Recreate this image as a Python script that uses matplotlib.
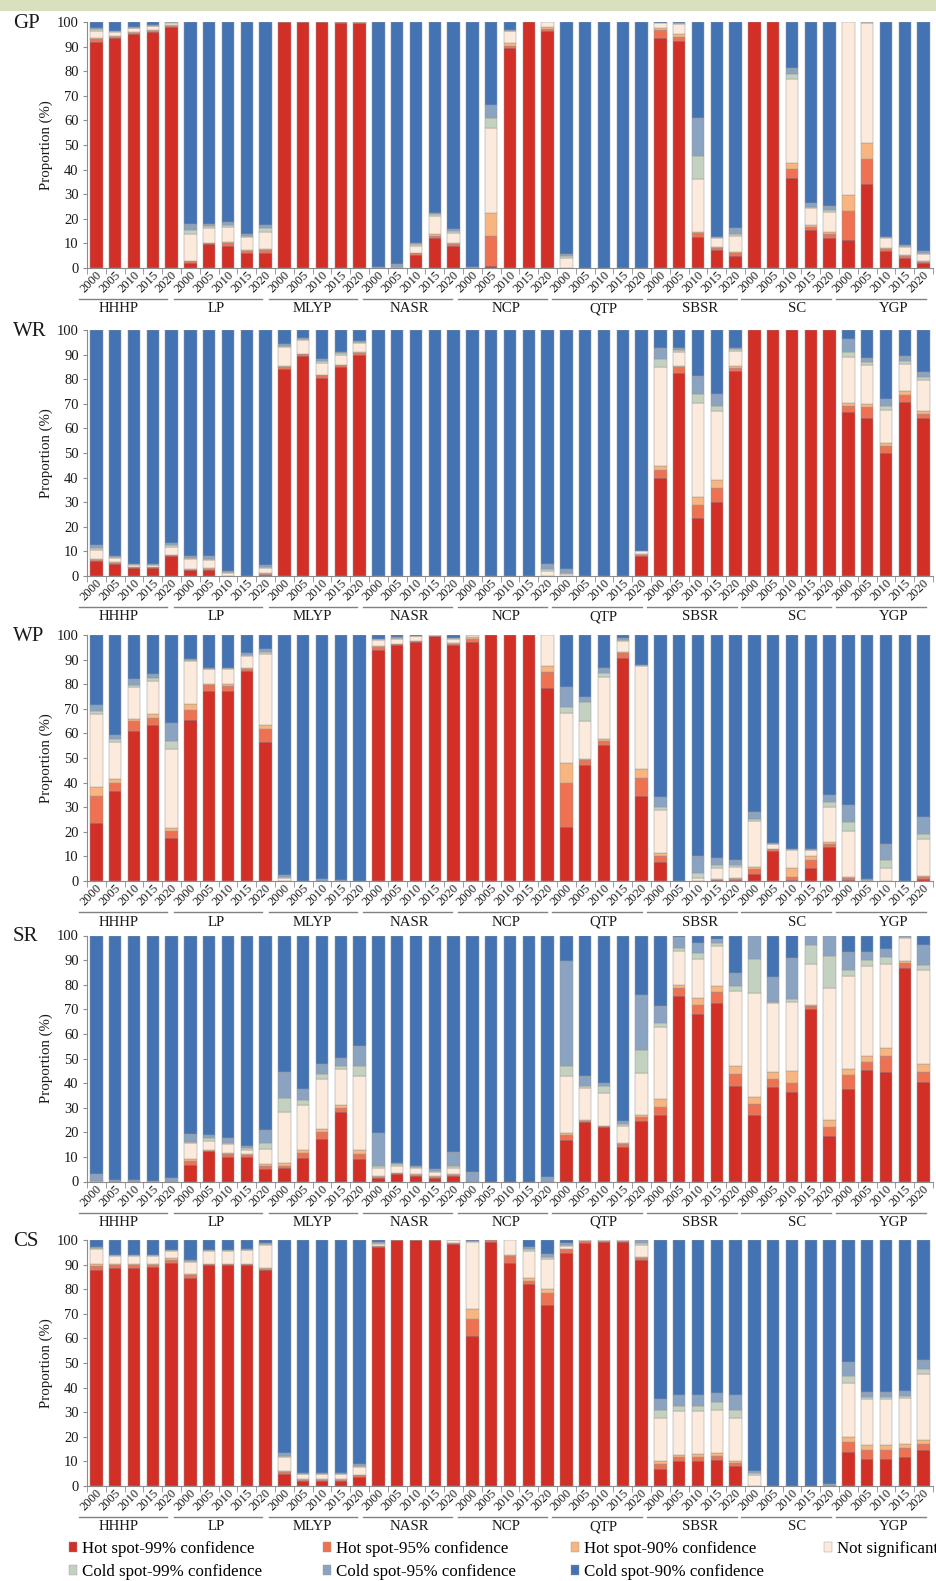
import matplotlib
matplotlib.use('Agg')
import matplotlib.pyplot as plt
from matplotlib.patches import Patch, Rectangle
from matplotlib.transforms import ScaledTranslation
import numpy as np

plt.rcParams['font.family'] = ['Liberation Serif', 'DejaVu Serif']

REGIONS = ['HHHP', 'LP', 'MLYP', 'NASR', 'NCP', 'QTP', 'SBSR', 'SC', 'YGP']
YEARS = ['2000', '2005', '2010', '2015', '2020']
PANELS = ['GP', 'WR', 'WP', 'SR', 'CS']
CATEGORIES = ['Hot spot-99% confidence', 'Hot spot-95% confidence', 'Hot spot-90% confidence',
              'Not significant', 'Cold spot-99% confidence', 'Cold spot-95% confidence',
              'Cold spot-90% confidence']
COLORS = ['#D22F27', '#EE7252', '#F8B57F', '#FCEADC', '#C3D2C0', '#8AA3C1', '#4473B4']

# ---------------- GP ----------------
GP_HOT99 = [92, 93.5, 95, 96, 98,  2, 9.8, 9.1, 6.1, 6.3,  99.8, 99.8, 99.8, 99.6, 99.4,  0, 0, 5.4, 12.2, 9.1,
            0, 1, 89.3, 100, 96.5,  0, 0, 0, 0, 0,  93.3, 92.4, 12.5, 7.3, 5,  100, 100, 36.5, 15.6, 12.1,
            11.4, 34, 6.8, 3.9, 2.2]
GP_HOT95 = [1, 0.5, 0.5, 0.3, 0.5,  0.7, 0.3, 1.2, 0.8, 1,  0.1, 0.1, 0.1, 0.2, 0.3,  0, 0, 0.6, 1, 0.8,
            0, 12.2, 1.1, 0, 0.8,  0, 0, 0, 0, 0,  3.4, 1.6, 1.6, 0.9, 1.1,  0, 0, 3.9, 1.2, 1.8,
            11.6, 10.2, 0.9, 1.1, 0.4]
GP_HOT90 = [0.5, 0.3, 0.3, 0.3, 0.2,  0.3, 0.2, 0.3, 0.5, 0.5,  0.1, 0.1, 0.1, 0.1, 0.1,  0, 0, 0.2, 0.6, 0.2,
            0, 9.1, 0.9, 0, 0.5,  0, 0, 0, 0, 0,  1, 1, 0.4, 0.5, 0.4,  0, 0, 2.3, 0.5, 0.6,
            6.5, 6.6, 0.3, 0.3, 0.4]
GP_NS = [3, 1.7, 1.7, 1.6, 1,  11, 5.9, 6, 5, 7,  0, 0, 0, 0.1, 0.2,  0, 0, 2.9, 7.5, 4.3,
         0, 34.7, 5, 0, 2.2,  4, 0, 0, 0, 0,  1.8, 4.2, 21.5, 3.5, 6.7,  0, 0, 34.3, 7, 8.1,
         70.5, 48.9, 4.2, 3.1, 2.7]
GP_COLD99 = [0.5, 0.3, 0.2, 0.2, 0.1,  1.5, 0.8, 0.9, 0.6, 1.5,  0, 0, 0, 0, 0,  0, 0.5, 0.6, 0.5, 0.8,
             0, 4, 0.2, 0, 0,  0.8, 0, 0, 0, 0,  0, 0.2, 9.4, 0.3, 0.5,  0, 0, 1.8, 0.5, 1,
             0, 0.2, 0.3, 0.5, 0.6]
GP_COLD95 = [0.5, 0.2, 0.3, 0.3, 0.1,  2.5, 1, 1, 1, 1,  0, 0, 0, 0, 0,  0.5, 1, 0.6, 0.5, 0.8,
             0.5, 5.2, 0.2, 0, 0,  0.8, 0, 0, 0, 0,  0, 0.1, 15.6, 0.2, 2.5,  0, 0, 2.3, 1.7, 1.8,
             0, 0.1, 0.3, 0.6, 0.7]
GP_COLD90 = [2.5, 3.5, 2, 1.3, 0.1,  82, 82, 81.5, 86, 82.7,  0, 0, 0, 0, 0,  99.5, 98.5, 89.7, 77.7, 84,
             99.5, 33.8, 3.3, 0, 0,  94.4, 100, 100, 100, 100,  0.5, 0.5, 39, 87.3, 83.8,  0, 0, 18.9, 73.5, 74.6,
             0, 0, 87.2, 90.5, 93]

# ---------------- WR ----------------
WR_HOT99 = [6.3, 5, 3.3, 3.3, 8.1,  2.3, 2.3, 0, 0, 0.6,  84, 89.3, 80.6, 85, 89.7,  0, 0, 0, 0, 0,
            0, 0, 0, 0, 0,  0, 0, 0, 0, 8.1,  39.7, 82.5, 23.4, 30.2, 83.2,  100, 100, 100, 100, 100,
            66.8, 64.3, 49.9, 70.9, 64.3]
WR_HOT95 = [0.3, 0.3, 0.3, 0.3, 0.4,  0.3, 0.6, 0, 0, 0.3,  1, 0.8, 1, 0.6, 0.9,  0, 0, 0, 0, 0,
            0, 0, 0, 0, 0,  0, 0, 0, 0, 0.5,  3.5, 2.4, 5.4, 5.4, 1.4,  0, 0, 0, 0, 0,
            2.5, 4.3, 3.1, 2.7, 1.6]
WR_HOT90 = [0.2, 0.2, 0.1, 0.1, 0.2,  0.2, 0.2, 0, 0, 0.2,  0.4, 0.3, 0.3, 0.3, 0.3,  0, 0, 0, 0, 0,
            0, 0, 0, 0, 0,  0, 0, 0, 0, 0.4,  1.6, 0.5, 3.4, 3.5, 0.6,  0, 0, 0, 0, 0,
            0.9, 1.4, 1.1, 1.5, 1.1]
WR_NS = [3.9, 1.8, 0.8, 0.7, 3.1,  4.2, 3.4, 1.2, 0, 2.1,  7.5, 5.7, 4.7, 4.1, 3.7,  0, 0, 0, 0, 0,
         0, 0, 0, 0, 2,  1, 0, 0, 0, 1.2,  40.1, 5.7, 38.2, 27.9, 6.2,  0, 0, 0, 0, 0,
         18.8, 15.9, 13.4, 11.2, 12.8]
WR_COLD99 = [0.8, 0.5, 0.2, 0.2, 0.7,  0.5, 0.6, 0.3, 0, 0.5,  0.5, 0.4, 0.6, 0.5, 0.4,  0, 0, 0, 0, 0,
             0, 0, 0, 0, 0.8,  0.4, 0, 0, 0, 0,  3.4, 0.8, 3.4, 2, 0.7,  0, 0, 0, 0, 0,
             2, 1.1, 1.8, 1.3, 1]
WR_COLD95 = [1, 0.5, 0.3, 0.3, 0.9,  0.5, 1.1, 0.5, 0, 0.6,  0.8, 0.3, 1.1, 0.5, 0.5,  0, 0, 0, 0, 0,
             0, 0, 0, 0, 1.9,  1.3, 0, 0, 0, 0,  4.4, 0.8, 7.3, 5, 0.7,  0, 0, 0, 0, 0,
             5.2, 1.6, 2.7, 1.7, 2.1]
WR_COLD90 = [87.5, 91.7, 95, 95.1, 86.6,  92, 91.8, 98, 100, 95.7,  5.8, 3.2, 11.7, 9, 4.5,  100, 100, 100, 100, 100,
             100, 100, 100, 100, 95.3,  97.3, 100, 100, 100, 89.8,  7.3, 7.3, 18.9, 26, 7.2,  0, 0, 0, 0, 0,
             3.8, 11.4, 28, 10.7, 17.1]

# ---------------- WP ----------------
WP_HOT99 = [23.5, 36.7, 60.9, 63.6, 17.3,  65.6, 77.2, 77.4, 85.3, 56.4,  0, 0, 0, 0, 0,  94, 95.8, 97.3, 99.4, 95.9,
            97.3, 100, 100, 100, 78.4,  22, 47.3, 55.3, 90.6, 34.6,  7.9, 0, 0.1, 0.4, 0.6,  2.7, 12.2, 0.3, 5.2, 14,
            0.5, 0, 0, 0, 0.8]
WP_HOT95 = [11.1, 3.1, 4, 2.7, 3.1,  4.1, 2.3, 1.8, 1, 5.4,  0, 0, 0, 0, 0,  1.1, 0.4, 0.3, 0.2, 0.5,
            1.2, 0, 0, 0, 6.5,  17.8, 1.9, 1.5, 2.1, 7.1,  2.3, 0, 0, 0.2, 0.3,  2.1, 0.7, 1.2, 3.2, 1.2,
            0.7, 0, 0, 0, 0.7]
WP_HOT90 = [3.7, 1.6, 1, 1.4, 1.3,  2.3, 0.7, 1, 0.3, 1.8,  0, 0, 0, 0, 0,  0.6, 0.2, 0.1, 0.1, 0.2,
            0.6, 0, 0, 0, 2.5,  8, 0.3, 0.9, 0.3, 3.8,  1.3, 0, 0, 0.1, 0.2,  1, 0.2, 3.6, 1.8, 0.7,
            0.3, 0, 0, 0, 0.7]
WP_NS = [29.4, 15.3, 12.9, 13.4, 32,  17.4, 5.8, 6.1, 4.7, 28.8,  1.2, 0, 0, 0, 0,  2.4, 2.1, 1.8, 0.3, 1.9,
         0.7, 0, 0, 0, 12.6,  20.5, 15.7, 25.2, 4.4, 41.9,  17.3, 0, 1.3, 4.7, 4.6,  18.7, 1.8, 7.7, 2.3, 14.3,
         18.9, 0, 5.2, 0, 14.8]
WP_COLD99 = [1.6, 1, 1, 1.5, 3.1,  0.4, 0.3, 0.2, 0.7, 0.7,  0.3, 0, 0, 0, 0,  0.2, 0.3, 0.1, 0, 0.2,
             0, 0, 0, 0, 0,  2.4, 7.5, 1.6, 0.6, 0.3,  1.4, 0, 2, 1, 0.8,  0.9, 0.3, 0.2, 0.2, 2,
             3.4, 0.3, 3.2, 0, 2.3]
WP_COLD95 = [2.4, 1.7, 2.4, 1.6, 7.3,  0.6, 0.2, 0.2, 0.7, 1.3,  1, 0, 0.7, 0.3, 0,  0.2, 0.3, 0.1, 0, 0.2,
             0, 0, 0, 0, 0,  8.1, 2, 2, 0.9, 0.2,  3.8, 0, 6.8, 3.1, 2.1,  2.7, 0.4, 0.2, 0.2, 2.9,
             7.2, 0.4, 6.8, 0, 6.8]
WP_COLD90 = [28.3, 40.6, 17.8, 15.8, 35.9,  9.6, 13.5, 13.3, 7.3, 5.6,  97.5, 100, 99.3, 99.7, 100,  1.5, 0.9, 0.3, 0, 1.1,
             0.2, 0, 0, 0, 0,  21.2, 25.3, 13.5, 1.1, 12.1,  66, 100, 89.8, 90.5, 91.4,  71.9, 84.4, 86.8, 87.1, 64.9,
             69, 99.3, 84.8, 100, 73.9]

# ---------------- SR ----------------
SR_HOT99 = [0, 0, 0, 0, 0,  6.8, 12.2, 10.1, 10.1, 5,  5.4, 9.7, 17.2, 28.1, 9.1,  1.6, 3, 2.4, 1.6, 2.4,
            0, 0, 0, 0, 0,  16.9, 24.1, 22.1, 14.2, 24.4,  27.1, 75.5, 68.1, 72.4, 39,  27.1, 38.3, 36.3, 70.1, 18.3,
            37.5, 45.3, 44.7, 86.9, 40.3]
SR_HOT95 = [0, 0, 0, 0, 0,  1.7, 0.3, 1.1, 0.8, 1.4,  1.1, 1.8, 2.8, 1.7, 2.1,  0.3, 0.3, 0.3, 0.3, 0.3,
            0, 0, 0, 0, 0,  1.8, 0.5, 0.4, 1.1, 2,  3.3, 3, 3.6, 4.7, 4.7,  4.4, 3.4, 3.9, 1.3, 4,
            5.8, 3.4, 6.3, 2.1, 4.4]
SR_HOT90 = [0, 0, 0, 0, 0,  0.7, 0.2, 0.3, 0.3, 0.8,  1.2, 1.4, 1.2, 1.1, 1.7,  0.2, 0.2, 0.2, 0.2, 0.2,
            0, 0, 0, 0, 0,  0.9, 0.2, 0.2, 0.3, 0.7,  3, 1.3, 2.7, 2.3, 3.3,  2.7, 2.7, 4.7, 0.4, 2.7,
            2.3, 2.3, 3.1, 0.7, 3.1]
SR_NS = [0, 0, 0, 0, 0,  6.6, 3.9, 3.8, 1.7, 5.9,  20.7, 18, 20.5, 14.8, 30.1,  3.3, 2.9, 2.5, 1.9, 2.5,
         0, 0, 0, 0, 0,  23.4, 13.1, 13.2, 7.1, 17.1,  29.3, 14, 15.9, 16.3, 30.5,  42.5, 28, 28.2, 16.6, 53.5,
         37.9, 36.7, 34.5, 9.1, 38.1]
SR_COLD99 = [0.3, 0, 0, 0, 0,  0.4, 1, 0.5, 0.6, 2.7,  5.4, 2.3, 2, 1.3, 4.1,  0.7, 0.6, 0.4, 0.4, 0.7,
             0, 0, 0, 0, 0,  4.1, 1.1, 2.9, 0.7, 9.3,  1.8, 1.3, 2.7, 1.1, 2.1,  13.7, 0.7, 0.9, 7.7, 13.1,
             2.4, 2.3, 2.5, 0.7, 2]
SR_COLD95 = [2.8, 0.5, 0.5, 0.4, 1.6,  3, 1.3, 1.8, 1, 5.2,  10.9, 4.3, 4.1, 3.3, 8,  13.8, 0.4, 0.6, 0.6, 5.7,
             3.7, 0, 0, 0, 1.8,  42.5, 3.9, 1.1, 1, 22.3,  6.8, 4.1, 3.8, 1.6, 5.2,  9.6, 10.1, 16.7, 3.9, 8.4,
             7.5, 3.1, 3.6, 0.5, 8.2]
SR_COLD90 = [96.9, 99.5, 99.5, 99.6, 98.4,  80.8, 81.1, 82.4, 85.5, 79,  55.3, 62.5, 52.2, 49.7, 44.9,  80.1, 92.6, 93.6, 95, 88.2,
             96.3, 100, 100, 100, 98.2,  10.4, 57.1, 60.1, 75.6, 24.2,  28.7, 0.8, 3.2, 1.6, 15.2,  0, 16.8, 9.3, 0, 0,
             6.6, 6.9, 5.3, 0, 3.9]

# ---------------- CS ----------------
CS_HOT99 = [87.9, 88.8, 88.8, 88.9, 90.7,  84.7, 89.7, 89.7, 89.7, 87.7,  5, 2.2, 2.2, 2.2, 3.7,  97.2, 99.8, 99.8, 99.8, 98.5,
            61, 99.2, 90.8, 82, 73.7,  94.7, 98.9, 99.2, 99.3, 91.7,  7, 10.2, 10.2, 10.7, 8.1,  0, 0, 0, 0, 0,
            13.8, 11.1, 11.1, 11.8, 14.8]
CS_HOT95 = [1.5, 0.9, 0.9, 0.8, 1,  0.9, 0.4, 0.4, 0.4, 0.6,  0.7, 0.3, 0.3, 0.3, 0.6,  0.4, 0.1, 0.1, 0.1, 0.3,
            6.8, 0.7, 2.6, 1.3, 4.9,  1.5, 0.6, 0.3, 0.3, 1.1,  2.1, 1.7, 1.7, 1.5, 1.4,  0, 0, 0, 0, 0,
            4.1, 3.4, 3.4, 3.6, 2.4]
CS_HOT90 = [1, 0.5, 0.5, 0.5, 0.8,  0.4, 0.2, 0.2, 0.2, 0.3,  0.5, 0.2, 0.2, 0.2, 0.3,  0.1, 0.05, 0.05, 0.05, 0.1,
            4, 0.1, 0.6, 1.3, 1.6,  0.3, 0.2, 0, 0, 0.4,  1.1, 0.9, 1, 1.1, 0.5,  0, 0, 0, 0, 0,
            2, 2, 2.3, 1.8, 1.4]
CS_NS = [5.8, 3.3, 3.2, 3.2, 3,  5.1, 5.2, 5.2, 5.5, 9.5,  5.6, 2, 2, 2, 3.1,  0.7, 0.05, 0.05, 0.05, 0.9,
         27.4, 0, 6, 10.9, 12.2,  1.1, 0.3, 0.5, 0.4, 4.9,  17.4, 17.8, 17.7, 17.7, 17.8,  4.6, 0, 0, 0, 0,
         22, 19, 18.7, 18.6, 26.8]
CS_COLD99 = [0.5, 0.3, 0.3, 0.3, 0.3,  0.3, 0.3, 0.3, 0.3, 0.3,  0.4, 0.3, 0.3, 0.3, 0.5,  0.3, 0, 0, 0, 0,
             0.2, 0, 0, 1, 0.7,  0.5, 0, 0, 0, 0.5,  3.2, 1.9, 2.1, 3.2, 3.2,  0.6, 0, 0, 0, 0,
             2.8, 0.7, 0.7, 0.6, 2.3]
CS_COLD95 = [0.5, 0.3, 0.4, 0.4, 0.3,  0.5, 0.3, 0.3, 0.3, 0.3,  1.4, 0.3, 0.3, 0.3, 0.7,  0.3, 0, 0, 0, 0,
             0.2, 0, 0, 0.7, 1.3,  0.8, 0, 0, 0, 1.4,  4.4, 4.4, 4.2, 3.6, 5.9,  0.8, 0, 0, 0, 0.7,
             5.7, 2, 2, 2.2, 3.4]
CS_COLD90 = [2.8, 5.9, 5.9, 5.9, 3.9,  8.1, 3.9, 3.9, 3.6, 1.3,  86.4, 94.7, 94.7, 94.7, 91.1,  1, 0, 0, 0, 0.2,
             0.4, 0, 0, 2.8, 5.6,  1.1, 0, 0, 0, 0,  64.8, 63.1, 63.1, 62.2, 63.1,  94, 100, 100, 100, 99.3,
             49.6, 61.8, 61.8, 61.4, 48.9]

DATA = {
    'GP': [GP_HOT99, GP_HOT95, GP_HOT90, GP_NS, GP_COLD99, GP_COLD95, GP_COLD90],
    'WR': [WR_HOT99, WR_HOT95, WR_HOT90, WR_NS, WR_COLD99, WR_COLD95, WR_COLD90],
    'WP': [WP_HOT99, WP_HOT95, WP_HOT90, WP_NS, WP_COLD99, WP_COLD95, WP_COLD90],
    'SR': [SR_HOT99, SR_HOT95, SR_HOT90, SR_NS, SR_COLD99, SR_COLD95, SR_COLD90],
    'CS': [CS_HOT99, CS_HOT95, CS_HOT90, CS_NS, CS_COLD99, CS_COLD95, CS_COLD90],
}

W, H = 937, 1581
fig = plt.figure(figsize=(W / 100, H / 100), dpi=100)
fig.patches.append(Rectangle((0, 1 - 11 / H), 1, 11 / H, transform=fig.transFigure,
                             facecolor='#D8E0BE', edgecolor='none', zorder=0))

panel_tops = [22, 330, 635, 935.5, 1240]
ph = 246
left_px, right_px = 87, 933
axis_grey = '#8c8c8c'
text_col = '#1a1a1a'

n_groups = len(REGIONS)
n_years = len(YEARS)
x = np.arange(n_groups * n_years)
year_labels = YEARS * n_groups

for name, top in zip(PANELS, panel_tops):
    ax = fig.add_axes([left_px / W, 1 - (top + ph) / H, (right_px - left_px) / W, ph / H])
    bottom = np.zeros(len(x))
    for vals, col in zip(DATA[name], COLORS):
        v = np.array(vals, dtype=float)
        lw = np.where(v > 0, 0.35, 0.0)
        ax.bar(x, v, width=0.66, bottom=bottom, color=col, edgecolor='#9a9a9a', linewidth=lw)
        bottom += v
    ax.set_xlim(-0.5, len(x) - 0.5)
    ax.set_ylim(0, 100)
    ax.set_yticks(np.arange(0, 101, 10))
    ax.tick_params(axis='y', labelsize=10.5, length=3, pad=3, color=axis_grey, labelcolor=text_col)
    for s in ['top', 'right']:
        ax.spines[s].set_visible(False)
    for s in ['left', 'bottom']:
        ax.spines[s].set_color(axis_grey)
        ax.spines[s].set_linewidth(0.8)
    ax.set_xticks(x)
    ax.set_xticklabels(year_labels, rotation=45, fontsize=9, color=text_col)
    ax.set_xticks(np.arange(-0.5, len(x), 1.0), minor=True)
    ax.tick_params(axis='x', which='major', length=0, pad=1)
    ax.tick_params(axis='x', which='minor', length=4, color=axis_grey)
    off = ScaledTranslation(-5 / 100, 0, fig.dpi_scale_trans)
    for lab in ax.get_xticklabels():
        lab.set_transform(lab.get_transform() + off)
    ax.set_ylabel('Proportion (%)', fontsize=10.7, color=text_col)
    ax.yaxis.set_label_coords(-0.040, 0.5)
    trans = ax.get_xaxis_transform()
    for g, reg in enumerate(REGIONS):
        x0 = g * n_years - 0.9 + 0.03 * g
        x1 = g * n_years + 3.75 + 0.05 * g
        ax.plot([x0, x1], [-31 / ph, -31 / ph], transform=trans, color='#808080', lw=1.0, clip_on=False)
        ax.text(g * n_years + 1.2 + 0.15 * g, -41 / ph, reg, transform=trans, ha='center', va='center',
                fontsize=10.7, color=text_col)
    fig.text(13 / W, 1 - (top + 1) / H, name, fontsize=15, ha='left', va='center', color=text_col)

# legend: one legend per entry placed on a 4-column grid
leg_x = [69, 323, 571, 824]
leg_y = [1549, 1572]
for i, (cat, col) in enumerate(zip(CATEGORIES, COLORS)):
    r = 0 if i < 4 else 1
    c = i if i < 4 else i - 4
    fig.legend(handles=[Patch(facecolor=col, edgecolor='#9a9a9a', linewidth=0.3)], labels=[cat],
               loc='center left', bbox_to_anchor=(leg_x[c] / W, 1 - leg_y[r] / H),
               frameon=False, fontsize=12.2, handlelength=0.5, handleheight=0.5,
               handletextpad=0.25, borderpad=0, borderaxespad=0)

fig.savefig('out.png', dpi=100)
